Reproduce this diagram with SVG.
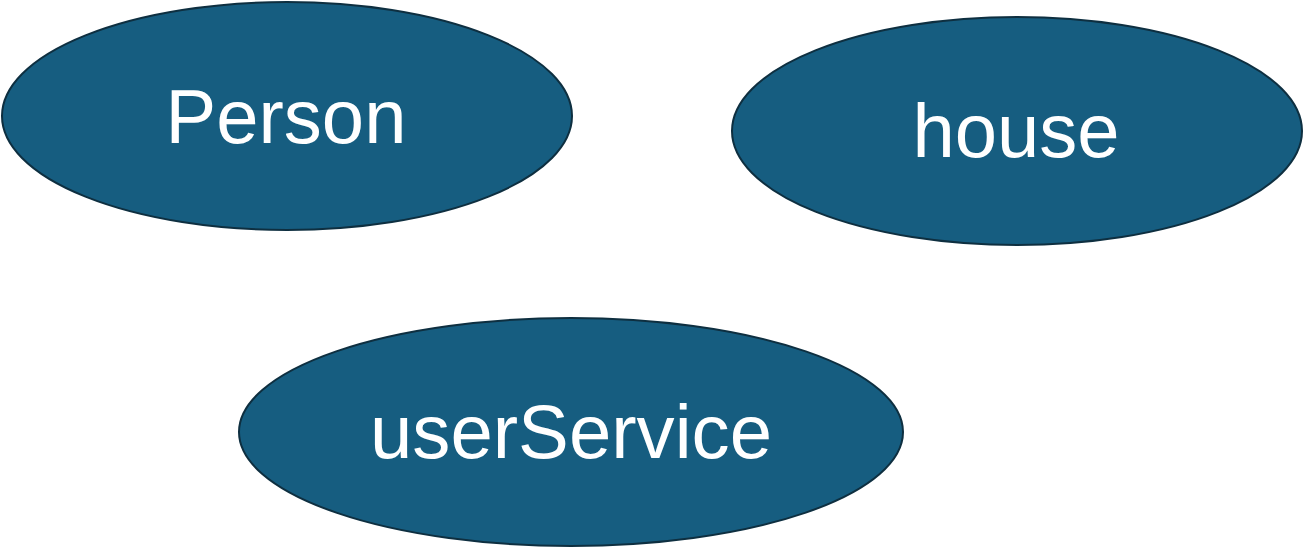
<svg xmlns="http://www.w3.org/2000/svg" width="1304" height="548" viewBox="0 0 1304 548">
<style>
.node ellipse{fill:#165D80;stroke:#0E2F40;stroke-width:2}
.node text{fill:#FFFFFF;font-family:"Liberation Sans",Arial,sans-serif;font-size:76px;text-anchor:middle}
</style>
<rect width="1304" height="548" fill="#FFFFFF"/>
<g id="connectors"></g>
<g id="node-person" class="node">
<ellipse cx="287" cy="116" rx="285" ry="114"/>
<text x="286" y="143">Person</text>
</g>
<g id="node-house" class="node">
<ellipse cx="1017" cy="131" rx="285" ry="114"/>
<text x="1016" y="157">house</text>
</g>
<g id="node-userService" class="node">
<ellipse cx="571" cy="432" rx="332" ry="114"/>
<text x="571" y="458" textLength="402" lengthAdjust="spacingAndGlyphs">userService</text>
</g>
</svg>
